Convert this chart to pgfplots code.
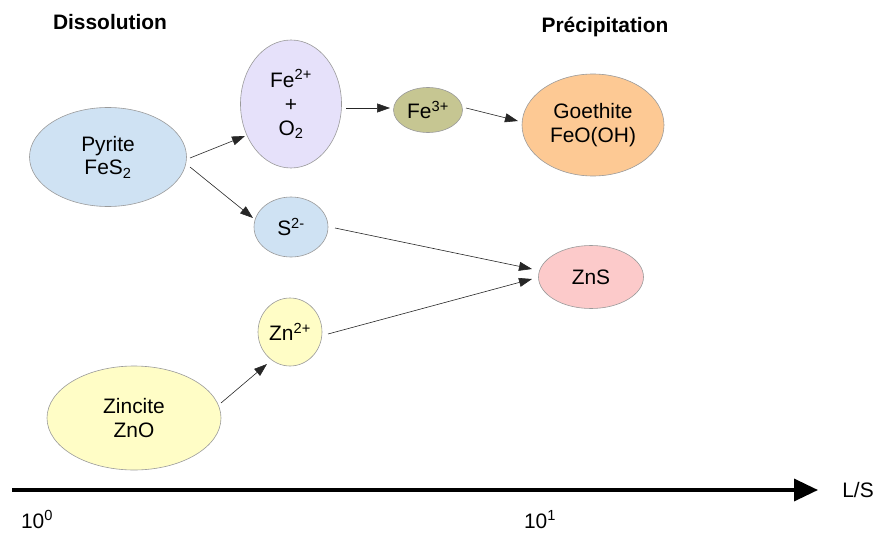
\documentclass[border=0pt]{standalone}
\usepackage{fontspec}
\setmainfont{Liberation Sans}
\usepackage{pgfplots}
\pgfplotsset{compat=1.18}
\usetikzlibrary{arrows.meta,shapes.geometric}
\definecolor{cblue}{HTML}{CFE2F3}
\definecolor{clav}{HTML}{E6E1FA}
\definecolor{colive}{HTML}{C6C692}
\definecolor{corange}{HTML}{FDC994}
\definecolor{cpink}{HTML}{FCCACA}
\definecolor{cyellow}{HTML}{FFFDC6}
\definecolor{cedge}{HTML}{9A9A9A}
\begin{document}
\begin{tikzpicture}[
  ell/.style={ellipse, draw=cedge, line width=0.6bp, inner sep=0pt, font=\fontsize{21}{24}\selectfont, align=center},
  lab/.style={font=\fontsize{21}{24}\selectfont, anchor=base, inner sep=0pt},
  arr/.style={black!85, line width=0.6bp, -{Triangle[length=13bp,width=9bp]}}]
\begin{axis}[width=881bp,height=533bp,scale only axis,
  xmin=0,xmax=881,ymin=0,ymax=533,y dir=reverse,hide axis,clip=false]
\path[draw=none] (axis cs:0,0) rectangle (axis cs:881,533);
% arrows
\addplot[arr] coordinates {(190,158) (245,136)};
\addplot[arr] coordinates {(190,167) (253,218)};
\addplot[arr] coordinates {(346,108) (390,108)};
\addplot[arr] coordinates {(466,108) (518,121)};
\addplot[arr] coordinates {(335,228) (532,269)};
\addplot[arr] coordinates {(328,334) (532,279)};
\addplot[arr] coordinates {(221,403) (267,364)};
% ellipses
\node[ell, fill=cblue, minimum width=157bp, minimum height=99bp] at (axis cs:108,157) {Pyrite\\FeS\textsubscript{2}};
\node[ell, fill=clav, minimum width=101bp, minimum height=128bp] at (axis cs:291,104) {Fe\textsuperscript{2+}\\+\\O\textsubscript{2}};
\node[ell, fill=colive, minimum width=69bp, minimum height=45bp] at (axis cs:428,110) {Fe\textsuperscript{3+}};
\node[ell, fill=corange, minimum width=142bp, minimum height=102bp] at (axis cs:593,125) {Goethite\\FeO(OH)};
\node[ell, fill=cblue, minimum width=74bp, minimum height=60bp] at (axis cs:291,227) {S\textsuperscript{2-}};
\node[ell, fill=cpink, minimum width=105bp, minimum height=63bp] at (axis cs:591,277) {ZnS};
\node[ell, fill=cyellow, minimum width=64bp, minimum height=68bp] at (axis cs:290,332) {Zn\textsuperscript{2+}};
\node[ell, fill=cyellow, minimum width=174bp, minimum height=104bp] at (axis cs:134,418) {Zincite\\ZnO};
% L/S axis
\addplot[black, line width=3.5bp, -{Triangle[length=24bp,width=22bp]}] coordinates {(12,490) (818,490)};
\node[lab] at (axis cs:858,497) {L/S};
\node[lab] at (axis cs:37,528) {10\textsuperscript{0}};
\node[lab] at (axis cs:540,528) {10\textsuperscript{1}};
% titles
\node[lab, font=\fontsize{21}{24}\selectfont\bfseries] at (axis cs:110,30) {Dissolution};
\node[lab, font=\fontsize{21}{24}\selectfont\bfseries] at (axis cs:605,33) {Précipitation};
\end{axis}
\end{tikzpicture}
\end{document}
